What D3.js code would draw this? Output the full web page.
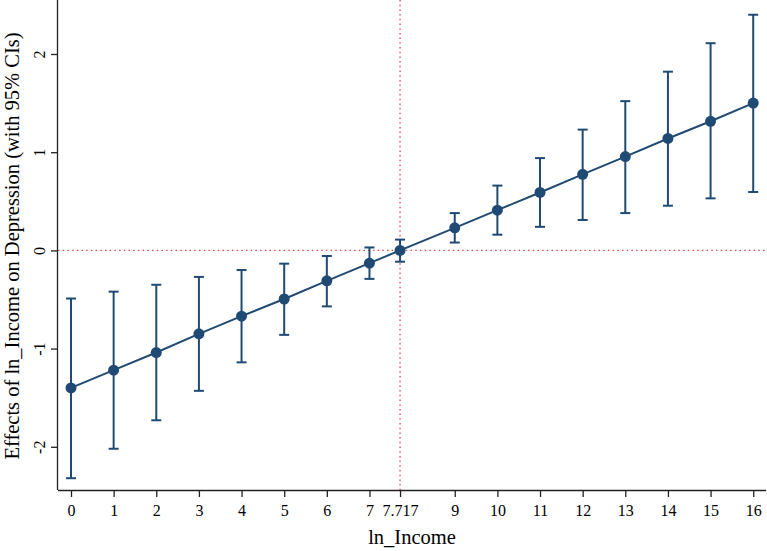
<!DOCTYPE html>
<html>
<head>
<meta charset="utf-8">
<script src="https://cdn.jsdelivr.net/npm/d3@7"></script>
<style>
  html, body { margin: 0; padding: 0; background: #fff; }
  svg { display: block; }
  text { font-family: "Liberation Serif", "Times New Roman", serif; fill: #000; }
</style>
</head>
<body>
<svg id="chart" width="767" height="551"></svg>
<script>
const xValues = [0, 1, 2, 3, 4, 5, 6, 7, 7.717, 9, 10, 11, 12, 13, 14, 15, 16];
const effect  = [-1.40, -1.22, -1.04, -0.85, -0.67, -0.495, -0.31, -0.13, 0.0, 0.23, 0.41, 0.59, 0.775, 0.955, 1.14, 1.315, 1.50];
const ciLow   = [-2.32, -2.02, -1.73, -1.43, -1.14, -0.86, -0.57, -0.29, -0.115, 0.08, 0.16, 0.24, 0.31, 0.38, 0.455, 0.53, 0.595];
const ciHigh  = [-0.49, -0.42, -0.35, -0.27, -0.20, -0.135, -0.057, 0.03, 0.11, 0.38, 0.66, 0.94, 1.23, 1.52, 1.82, 2.11, 2.40];
const xTicks  = [0, 1, 2, 3, 4, 5, 6, 7, 7.717, 9, 10, 11, 12, 13, 14, 15, 16];
const yTicks  = [-2, -1, 0, 1, 2];
const refX = 7.717;
const refY = 0;

(function () {
const svg = d3.select("#chart");
const pL = 58, pR = 766, pT = 0, pB = 490;
const navy = "#1f4a74";
const red = "#e8474b";

const x = d3.scaleLinear().domain([-0.305, 16.3]).range([pL, pR]);
const y = d3.scaleLinear().domain([-2.44, 2.55]).range([pB, pT]);

// reference lines
svg.append("line")
  .attr("x1", pL).attr("x2", pR)
  .attr("y1", y(refY)).attr("y2", y(refY))
  .attr("stroke", red).attr("stroke-width", 1.3)
  .attr("stroke-dasharray", "1.5,3.2");
svg.append("line")
  .attr("x1", x(refX)).attr("x2", x(refX))
  .attr("y1", pT).attr("y2", pB)
  .attr("stroke", red).attr("stroke-width", 1.3)
  .attr("stroke-dasharray", "1.5,3.2");

// axes
const xAxis = d3.axisBottom(x).tickValues(xTicks).tickSize(7).tickPadding(8)
  .tickFormat(d => String(d));
const gx = svg.append("g").attr("transform", `translate(0,${pB})`).call(xAxis);
gx.attr("font-family", null).attr("font-size", null);
gx.select(".domain").attr("d", `M${pL},0.5H${pR}`).attr("stroke", "#222").attr("stroke-width", 1.3);
gx.selectAll(".tick line").attr("stroke", "#222").attr("stroke-width", 1.3);
gx.selectAll(".tick text").style("font-size", "16px").style("font-family", "Liberation Serif");

const yAxis = d3.axisLeft(y).tickValues(yTicks).tickSize(7).tickFormat(d => String(d));
const gy = svg.append("g").attr("transform", `translate(${pL},0)`).call(yAxis);
gy.attr("font-family", null).attr("font-size", null);
gy.select(".domain").attr("d", `M-0.5,${pT}V${pB}`).attr("stroke", "#222").attr("stroke-width", 1.3);
gy.selectAll(".tick line").attr("stroke", "#222").attr("stroke-width", 1.3);
gy.selectAll(".tick text")
  .style("font-size", "16px").style("font-family", "Liberation Serif")
  .attr("x", null)
  .attr("text-anchor", "middle")
  .attr("transform", "translate(-13,0) rotate(-90)")
  .attr("dy", "0em");

// error bars
const data = xValues.map((v, i) => ({x: v, e: effect[i], lo: ciLow[i], hi: ciHigh[i]}));
const eb = svg.append("g");
eb.selectAll("line.v").data(data).join("line").attr("class", "v")
  .attr("x1", d => x(d.x)).attr("x2", d => x(d.x))
  .attr("y1", d => y(d.lo)).attr("y2", d => y(d.hi))
  .attr("stroke", navy).attr("stroke-width", 2);
eb.selectAll("line.lo").data(data).join("line").attr("class", "lo")
  .attr("x1", d => x(d.x) - 5).attr("x2", d => x(d.x) + 5)
  .attr("y1", d => y(d.lo)).attr("y2", d => y(d.lo))
  .attr("stroke", navy).attr("stroke-width", 2);
eb.selectAll("line.hi").data(data).join("line").attr("class", "hi")
  .attr("x1", d => x(d.x) - 5).attr("x2", d => x(d.x) + 5)
  .attr("y1", d => y(d.hi)).attr("y2", d => y(d.hi))
  .attr("stroke", navy).attr("stroke-width", 2);

// line
svg.append("path").datum(data)
  .attr("fill", "none").attr("stroke", navy).attr("stroke-width", 2)
  .attr("d", d3.line().x(d => x(d.x)).y(d => y(d.e)));

// markers
svg.append("g").selectAll("circle").data(data).join("circle")
  .attr("cx", d => x(d.x)).attr("cy", d => y(d.e)).attr("r", 5.5)
  .attr("fill", navy);

// titles
svg.append("text")
  .attr("x", 412).attr("y", 544)
  .attr("text-anchor", "middle")
  .style("font-size", "20.5px")
  .text("ln_Income");
svg.append("text")
  .attr("transform", `translate(19,246) rotate(-90)`)
  .attr("text-anchor", "middle")
  .style("font-size", "20.5px")
  .text("Effects of ln_Income on Depression (with 95% CIs)");
})();
</script>
</body>
</html>
